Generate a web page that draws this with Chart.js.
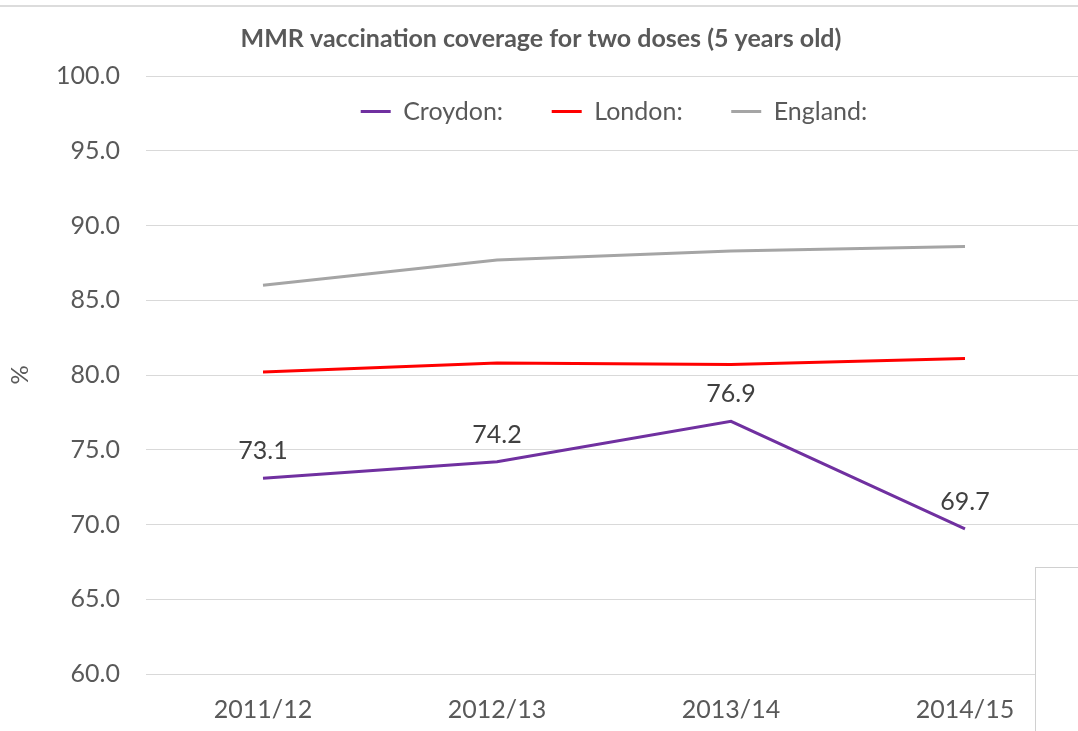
<!DOCTYPE html>
<html>
<head>
<meta charset="utf-8">
<script src="https://cdn.jsdelivr.net/npm/chart.js@4"></script>
<style>
  html, body { margin: 0; padding: 0; background: #fff; overflow: hidden; }
  #wrap { position: relative; width: 1084px; height: 731px; }
  #topline { position: absolute; left: 0; top: 5px; width: 1078px; height: 0; border-top: 2px solid #dcdcdc; }
  #corner { position: absolute; left: 1035px; top: 567px; width: 60px; height: 164px; background: #fff;
            border-left: 1px solid #d0d0d0; border-top: 1px solid #d0d0d0; }
</style>
</head>
<body>
<div id="wrap">
  <canvas id="grafico"></canvas>
  <div id="topline"></div>
  <div id="corner"></div>
</div>
<script>
// Datos del gráfico
const periodos = ['2011/12', '2012/13', '2013/14', '2014/15'];
const croydon  = [73.1, 74.2, 76.9, 69.7];
const london   = [80.2, 80.8, 80.7, 81.1];
const england  = [86.0, 87.7, 88.3, 88.6];
const etiquetas = ['Croydon:', 'London:', 'England:'];
const colores   = ['#7030A0', '#FF0000', '#A5A5A5'];

const fuente = 'Lato, Calibri, "Open Sans", sans-serif';

// Etiquetas de valor sobre la serie de Croydon
const etiquetasValor = {
  id: 'etiquetasValor',
  afterDatasetsDraw(chart) {
    const ctx = chart.ctx;
    const meta = chart.getDatasetMeta(0);
    ctx.save();
    ctx.font = '25px ' + fuente;
    ctx.fillStyle = '#404040';
    ctx.textAlign = 'center';
    ctx.textBaseline = 'middle';
    meta.data.forEach((p, i) => {
      ctx.fillText(croydon[i].toFixed(1), p.x, p.y - 27);
    });
    ctx.restore();
  }
};

// Leyenda superpuesta dentro del área del gráfico (altura 0, sin recorte)
const leyendaDentro = {
  id: 'leyendaDentro',
  beforeInit(chart) {
    const leyenda = chart.legend;
    const fitOriginal = leyenda.fit;
    leyenda.fit = function () {
      fitOriginal.call(this);
      this.height = 0;
    };
    leyenda.draw = function () {
      if (this.options.display) this._draw();
    };
  },
  beforeDraw(chart) {
    // centrar la leyenda sobre el área de trazado
    chart.legend.left = chart.chartArea.left;
    chart.legend.right = chart.chartArea.right;
  }
};

function serie(i, datos) {
  return {
    label: etiquetas[i],
    data: datos,
    borderColor: colores[i],
    backgroundColor: colores[i],
    pointBorderColor: colores[i],
    pointBackgroundColor: colores[i],
    pointBorderWidth: 3
  };
}

new Chart(document.getElementById('grafico'), {
  type: 'line',
  data: {
    labels: periodos,
    datasets: [serie(0, croydon), serie(1, london), serie(2, england)]
  },
  options: {
    responsive: true,
    maintainAspectRatio: false,
    animation: false,
    layout: { padding: { top: 0, right: 2, bottom: 0, left: 0 } },
    elements: {
      line: { borderWidth: 3, tension: 0 },
      point: { radius: 0, pointStyle: 'line' }
    },
    plugins: {
      title: {
        display: true,
        text: 'MMR vaccination coverage for two doses (5 years old)',
        color: '#595959',
        font: { family: fuente, size: 25, weight: 'bold' },
        padding: { top: 24, bottom: 22 }
      },
      legend: {
        display: true,
        position: 'top',
        align: 'center',
        labels: {
          color: '#595959',
          font: { family: fuente, size: 25 },
          usePointStyle: true,
          pointStyle: 'line',
          pointStyleWidth: 30,
          padding: 23,
          generateLabels(chart) {
            const base = Chart.defaults.plugins.legend.labels.generateLabels(chart);
            // espacio extra entre elementos de la leyenda
            return base.map((l, i) => i < base.length - 1 ? { ...l, text: l.text + '    ' } : l);
          }
        }
      },
      tooltip: { enabled: false }
    },
    scales: {
      x: {
        offset: true,
        afterFit(scale) { scale.height = 57; },
        grid: { display: false, drawTicks: false },
        border: { display: true, color: '#d9d9d9', width: 1 },
        ticks: { color: '#595959', font: { family: fuente, size: 25 }, padding: 21, maxRotation: 0 }
      },
      y: {
        min: 60,
        max: 100,
        afterFit(scale) { scale.width = 146; },
        grid: { color: '#d9d9d9', drawTicks: false },
        border: { display: false },
        ticks: {
          stepSize: 5,
          color: '#595959',
          font: { family: fuente, size: 25 },
          padding: 26,
          callback: v => v.toFixed(1)
        },
        title: {
          display: true,
          text: '%',
          color: '#595959',
          font: { family: fuente, size: 24 },
          padding: { top: 6, bottom: 0 }
        }
      }
    }
  },
  plugins: [leyendaDentro, etiquetasValor]
});
</script>
</body>
</html>
